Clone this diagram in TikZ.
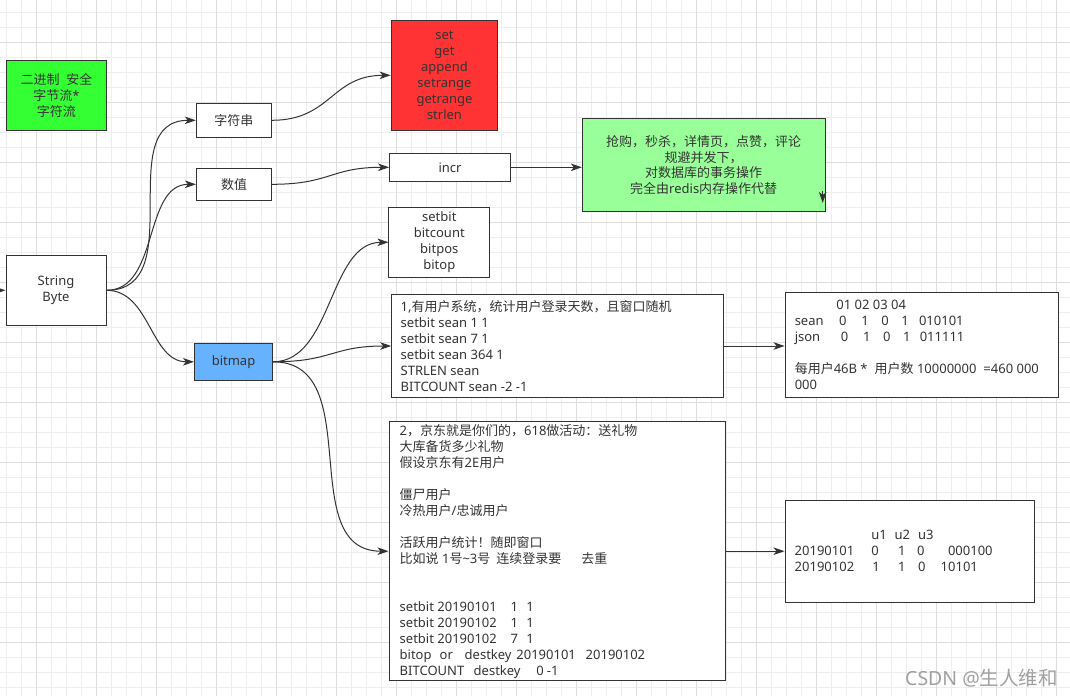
\documentclass[tikz,border=0pt]{standalone}
\usepackage{fontspec}
\setmainfont{Noto Sans}
\newfontfamily\latinf{Noto Sans}
\newfontfamily\cjkf{Noto Sans CJK SC}
\usetikzlibrary{arrows.meta,calc}
\XeTeXinterchartokenstate=1
\newXeTeXintercharclass\CJKcls
\count255="3000 \loop \XeTeXcharclass\count255=\CJKcls \ifnum\count255<"303F \advance\count255 by 1 \repeat
\count255="4E00 \loop \XeTeXcharclass\count255=\CJKcls \ifnum\count255<"9FFF \advance\count255 by 1 \repeat
\count255="FF00 \loop \XeTeXcharclass\count255=\CJKcls \ifnum\count255<"FFEF \advance\count255 by 1 \repeat
\XeTeXinterchartoks 0 \CJKcls = {\cjkf}
\XeTeXinterchartoks 4095 \CJKcls = {\cjkf}
\XeTeXinterchartoks \CJKcls 0 = {\latinf}
\XeTeXinterchartoks \CJKcls 4095 = {\latinf}
\definecolor{lc}{HTML}{333333}
\definecolor{tc}{HTML}{333333}
\definecolor{gmin}{HTML}{EEEEEE}
\definecolor{gmaj}{HTML}{DEDEDE}
\definecolor{cgreen}{HTML}{33FF33}
\definecolor{cred}{HTML}{FF3333}
\definecolor{clgreen}{HTML}{99FF99}
\definecolor{cblue}{HTML}{66B2FF}
\definecolor{wmc}{HTML}{A0A0A0}
\tikzset{
  gminor/.style={draw=gmin, line width=1pt},
  gmajor/.style={draw=gmaj, line width=1pt},
  box/.style={draw=lc, line width=1pt, inner sep=0pt, text=tc, font=\fontsize{13}{16}\selectfont, align=center},
  txt/.style={text=tc, font=\fontsize{13}{16}\selectfont, inner sep=0pt},
  arr/.style={draw=lc, line width=1pt, -{Stealth[length=11pt,width=7.5pt,inset=3pt]}},
}
\newcommand\curv[2]{%
  \draw[arr] let \p1=(#1), \p2=(#2), \n1={max(abs(\x2-\x1),abs(\y2-\y1))/2} in
    (#1) .. controls ($(#1)+(\n1,0)$) and ($(#2)-(\n1,0)$) .. (#2);
}
\begin{document}
\begin{tikzpicture}[x=1pt,y=-1pt]
\useasboundingbox (0,0) rectangle (1070,696);
\fill[white] (0,0) rectangle (1070,696);
\foreach \i in {0,...,71} \draw[gminor] ({6+15*\i},0) -- ({6+15*\i},696);
\foreach \j in {0,...,46} \draw[gminor] (0,{12.7+15*\j}) -- (1070,{12.7+15*\j});
\foreach \i in {0,...,17} \draw[gmajor] ({36+60*\i},0) -- ({36+60*\i},696);
\foreach \j in {0,...,11} \draw[gmajor] (0,{42.7+60*\j}) -- (1070,{42.7+60*\j});

% nodes
\node[box, fill=cgreen, minimum width=100, minimum height=70] (gb) at (56.4,95.3) {二进制~~安全\\字节流*\\字符流};
\node[box, fill=white, minimum width=100, minimum height=70] (sb) at (56,290.3) {String\\Byte};
\node[box, fill=white, minimum width=75, minimum height=34] (zfc) at (233.8,120.3) {字符串};
\node[box, fill=white, minimum width=75, minimum height=32] (sz) at (234,184.3) {数值};
\node[box, fill=cblue, minimum width=78, minimum height=37] (bm) at (233.5,361.8) {bitmap};
\node[box, fill=cred, minimum width=106.7, minimum height=110] (red) at (444.5,75.3) {set\\get\\append\\setrange\\getrange\\strlen};
\node[box, fill=white, minimum width=121, minimum height=28] (incr) at (450.1,167.3) {incr};
\node[box, fill=white, minimum width=100.7, minimum height=70] (sbit) at (439.3,242.3) {setbit\\bitcount\\bitpos\\bitop};
\node[box, fill=clgreen, minimum width=242.7, minimum height=93.4, font=\fontsize{13}{15.6}\selectfont] (lg) at (703.7,165) {抢购，秒杀，详情页，点赞，评论\\规避并发下，\\对数据库的事务操作\\完全由redis内存操作代替};
\node[box, fill=white, minimum width=331.6, minimum height=102.6] (b1) at (557.5,346) {};
\node[box, fill=white, minimum width=273.3, minimum height=105.4] (sean) at (921.7,345) {};
\node[box, fill=white, minimum width=336.7, minimum height=259] (b2) at (557.35,551.2) {};
\node[box, fill=white, minimum width=249, minimum height=102.3] (b6) at (909.5,551.2) {};

\node[txt, align=left, anchor=west] (b1t) at ($(b1.west)+(9.3,0)$) {1,有用户系统，统计用户登录天数，且窗口随机\\setbit sean 1 1\\setbit sean 7 1\\setbit sean 364 1\\STRLEN sean\\BITCOUNT sean -2 -1};

\node[txt, align=left, anchor=west] (seant) at ($(sean.west)+(10,0)$) {\hspace*{41.7pt}01 02 03 04\\
\makebox[44.3pt][l]{sean}\makebox[22.4pt][l]{0}\makebox[20pt][l]{1}\makebox[20pt][l]{0}\makebox[17.6pt][l]{1}010101\\
\makebox[46pt][l]{json}\makebox[22.3pt][l]{0}\makebox[20pt][l]{1}\makebox[20pt][l]{0}\makebox[16.7pt][l]{1}011111\\[16pt]
每用户46B *\hspace{7pt}用户数 10000000\hspace{7pt}=460 000\\
000};

\node[txt, align=left, anchor=west] (b2t) at ($(b2.west)+(11,0)$) {2，京东就是你们的，618做活动：送礼物\\
大库备货多少礼物\\
假设京东有2E用户\\[16pt]
僵尸用户\\
冷热用户/忠诚用户\\[16pt]
活跃用户统计！随即窗口\\
比如说 1号\textasciitilde3号\hspace{6pt}连续登录要\hspace{20pt}去重\\[32pt]
\makebox[111pt][l]{setbit 20190101}\makebox[15.7pt][l]{1}1\\
\makebox[111pt][l]{setbit 20190102}\makebox[15.7pt][l]{1}1\\
\makebox[111pt][l]{setbit 20190102}\makebox[15.7pt][l]{7}1\\
\makebox[40pt][l]{bitop}\makebox[25pt][l]{or}\makebox[51.7pt][l]{destkey}\makebox[69.3pt][l]{20190101}20190102\\
\makebox[74pt][l]{BITCOUNT}\makebox[62.7pt][l]{destkey}\makebox[10.5pt][l]{0}-1};

\node[txt, align=left, anchor=west] (b6t) at ($(b6.west)+(10,0)$) {\hspace*{76.7pt}\makebox[23.3pt][l]{u1}\makebox[23.3pt][l]{u2}u3\\
\makebox[76.7pt][l]{20190101}\makebox[26.6pt][l]{0}\makebox[19pt][l]{1}\makebox[31pt][l]{0}000100\\
\makebox[77.7pt][l]{20190102}\makebox[25.6pt][l]{1}\makebox[20pt][l]{1}\makebox[22.7pt][l]{0}10101};

\node[anchor=west, inner sep=0pt, text=wmc, font=\fontsize{19.5}{21}\selectfont] (wm) at (905,678.5) {CSDN @生人维和};

% connectors
\coordinate (lin) at (-30,290.3);
\draw[arr] (lin) -- (sb.west);
\curv{sb.east}{zfc.west}
\curv{sb.east}{sz.west}
\curv{sb.east}{bm.west}
\curv{zfc.east}{red.west}
\curv{sz.east}{incr.west}
\curv{bm.east}{sbit.west}
\curv{bm.east}{b1.west}
\curv{bm.east}{b2.west}
\draw[arr] (incr.east) -- (incr.east -| lg.west);
\draw[arr] (b1.east) -- (b1.east -| sean.west);
\draw[arr] (b2.east) -- (b2.east -| b6.west);
\coordinate (ta) at (822.7,191);
\coordinate (tb) at (822.7,203);
\draw[arr] (ta) -- (tb);
\end{tikzpicture}
\end{document}
